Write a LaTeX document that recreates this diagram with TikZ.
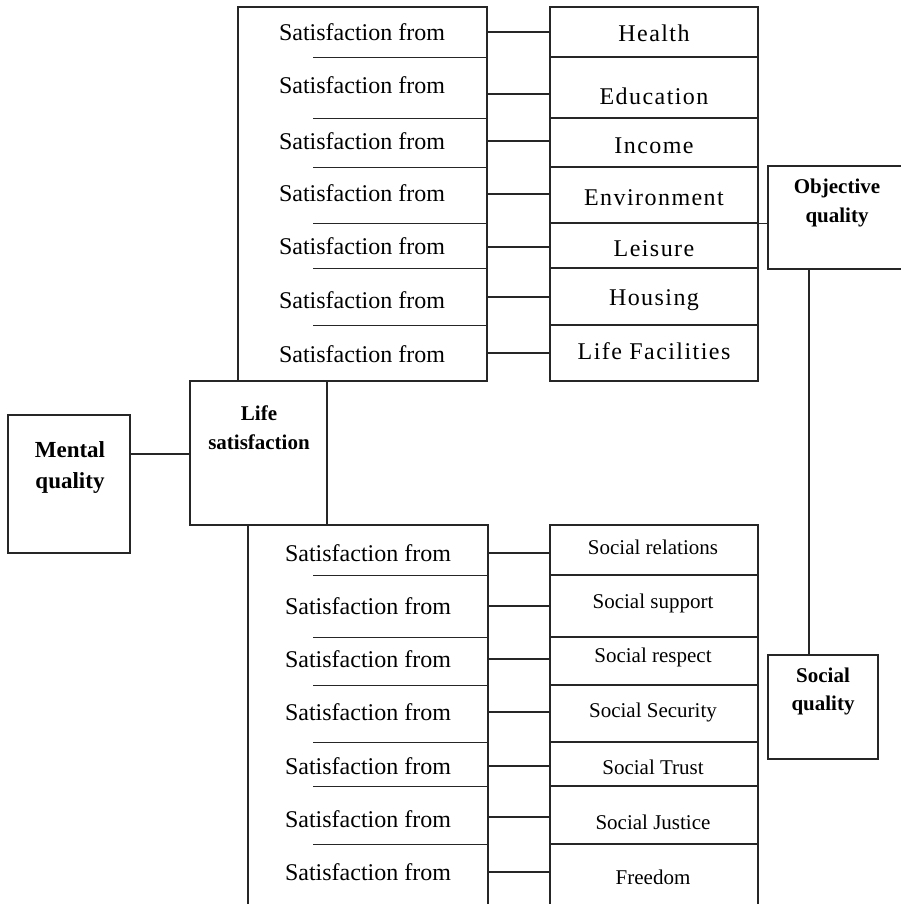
\documentclass[tikz,border=0pt]{standalone}
\usepackage{fontspec}
\setmainfont{Liberation Serif}
\newfontfamily\spacedfont[LetterSpace=6]{Liberation Serif}
\begin{document}
\begin{tikzpicture}[x=1pt,y=-1pt,
  ln/.style={line width=1.3pt, draw=black!85},
  frame/.style={ln, rectangle, inner sep=0pt},
  rbox/.style={frame, minimum width=208pt},
  sat/.style={font=\fontsize{24}{28}\selectfont, inner sep=0pt},
  item/.style={font=\spacedfont\fontsize{24}{28}\selectfont, inner sep=0pt},
  soc/.style={font=\fontsize{21}{25}\selectfont, inner sep=0pt},
  boldlbl/.style={font=\bfseries\fontsize{21}{29}\selectfont, align=center, inner sep=0pt}]
\useasboundingbox[fill=white] (0,0) rectangle (901,904);

% ---------- top group ----------
\node[frame, minimum width=249pt, minimum height=374pt] (tf) at (362.5,194) {};
\node[rbox, minimum height=50pt] (hT1) at (654,32) {};
\node[rbox, minimum height=61pt] (hT2) at (654,87.5) {};
\node[rbox, minimum height=49pt] (hT3) at (654,142.5) {};
\node[rbox, minimum height=56pt] (hT4) at (654,195) {};
\node[rbox, minimum height=45pt] (hT5) at (654,245.5) {};
\node[rbox, minimum height=57pt] (hT6) at (654,296.5) {};
\node[rbox, minimum height=56pt] (hT7) at (654,353) {};

\node[item] (tT1) at (654,33) {Health};
\node[item] (tT2) at (654,96) {Education};
\node[item] (tT3) at (654,146) {Income};
\node[item] (tT4) at (654,198) {Environment};
\node[item] (tT5) at (654,249) {Leisure};
\node[item] (tT6) at (654,300) {Housing};
\node[item] (tT7) at (654,351) {Life Facilities};

\foreach \i/\y in {1/32,2/85,3/141,4/193,5/246,6/300,7/354}{
  \node[sat] (sT\i) at (362,\y) {Satisfaction from};
}
\foreach \i in {1,...,6}{
  \draw[ln] (tf.east |- hT\i.south) -- ++(-175,0);
}
\foreach \i/\y in {1/32,2/94,3/141,4/194,5/247,6/297,7/353}{
  \draw[ln] (tf.east |- 0,\y) -- (hT\i.west |- 0,\y);
}

% ---------- left boxes ----------
\node[frame, minimum width=137pt, minimum height=144pt] (life) at (258.5,453) {};
\node[boldlbl] (lifet) at (259,428) {Life\\satisfaction};
\node[frame, minimum width=122pt, minimum height=138pt] (mental) at (69,484) {};
\node[boldlbl, font=\bfseries\fontsize{23}{31}\selectfont] (mentalt) at (70,467) {Mental\\quality};
\draw[ln] (mental.east |- 0,454) -- (life.west |- 0,454);

% ---------- bottom group ----------
\node[frame, minimum width=240pt, minimum height=387pt] (bf) at (368,718.5) {};
\node[rbox, minimum height=50pt] (hB1) at (654,550) {};
\node[rbox, minimum height=62pt] (hB2) at (654,606) {};
\node[rbox, minimum height=48pt] (hB3) at (654,661) {};
\node[rbox, minimum height=57pt] (hB4) at (654,713.5) {};
\node[rbox, minimum height=44pt] (hB5) at (654,764) {};
\node[rbox, minimum height=58pt] (hB6) at (654,815) {};
\node[rbox, minimum height=68pt] (hB7) at (654,878) {};

\node[soc] (tB1) at (653,547) {Social relations};
\node[soc] (tB2) at (653,603) {Social support};
\node[soc] (tB3) at (653,657) {Social respect};
\node[soc] (tB4) at (653,712) {Social Security};
\node[soc] (tB5) at (653,767) {Social Trust};
\node[soc] (tB6) at (653,822) {Social Justice};
\node[soc] (tB7) at (653,877) {Freedom};

\foreach \i/\y in {1/553,2/606,3/659,4/712,5/766,6/819,7/872}{
  \node[sat] (sB\i) at (368,\y) {Satisfaction from};
}
\foreach \i in {1,...,6}{
  \draw[ln] (bf.east |- hB\i.south) -- ++(-176,0);
}
\foreach \i/\y in {1/553,2/606,3/659,4/712,5/766,6/817,7/872}{
  \draw[ln] (bf.east |- 0,\y) -- (hB\i.west |- 0,\y);
}

% ---------- right boxes ----------
\node[frame, minimum width=140pt, minimum height=103pt] (obj) at (838,217.5) {};
\node[boldlbl] (objt) at (837,203) {Objective\\quality};
\node[frame, minimum width=110pt, minimum height=104pt] (socq) at (823,707) {};
\node[boldlbl, font=\bfseries\fontsize{21}{28}\selectfont] (socqt) at (823,691) {Social\\quality};
\draw[ln] (hT4.south east) -- (obj.west |- hT4.south east);
\coordinate (ov) at (809,0);
\draw[ln] (obj.south -| ov) -- (socq.north -| ov);
\end{tikzpicture}
\end{document}
